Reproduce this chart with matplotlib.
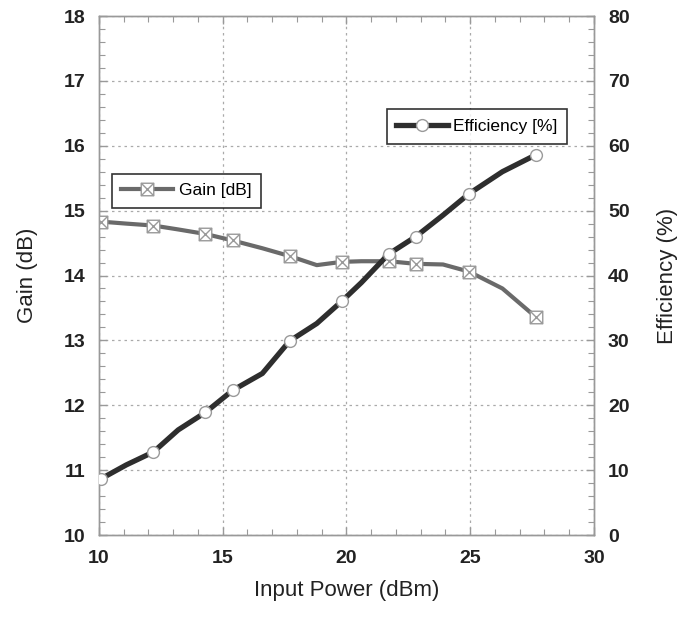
import matplotlib.pyplot as plt
import numpy as np
from matplotlib.path import Path
from matplotlib.ticker import MultipleLocator

plt.rcParams['font.family'] = ['Liberation Sans', 'DejaVu Sans']

# measured sweep
input_power = [10.1, 11.1, 12.2, 13.2, 14.3, 15.4, 16.6, 17.7, 18.8, 19.8,
               20.6, 21.7, 22.8, 23.9, 24.95, 26.3, 27.65]
gain_db = [14.83, 14.80, 14.77, 14.71, 14.64, 14.54, 14.42, 14.30, 14.16, 14.21,
           14.22, 14.22, 14.18, 14.17, 14.06, 13.80, 13.36]
efficiency = [8.7, 10.8, 12.8, 16.2, 18.9, 22.3, 24.9, 29.9, 32.6, 36.0,
              38.9, 43.3, 46.0, 49.3, 52.6, 56.0, 58.6]
marked = [0, 2, 4, 5, 7, 9, 11, 12, 14, 16]

# square with both diagonals
verts = [(-1, -1), (1, -1), (1, 1), (-1, 1), (-1, -1),
         (-1, -1), (1, 1), (-1, 1), (1, -1)]
codes = [Path.MOVETO, Path.LINETO, Path.LINETO, Path.LINETO, Path.CLOSEPOLY,
         Path.MOVETO, Path.LINETO, Path.MOVETO, Path.LINETO]
box_x = Path(verts, codes)

fig = plt.figure(figsize=(6.79, 6.18), dpi=100)
ax = fig.add_axes([0.1458, 0.1343, 0.729, 0.8398])
ax2 = ax.twinx()

ax.plot(input_power, gain_db, color='#6a6a6a', lw=3, marker=box_x, markevery=marked,
        ms=9, mfc='white', mec='#9a9a9a', mew=1.0, label='Gain [dB]', zorder=3)
ax2.plot(input_power, efficiency, color='#2e2e2e', lw=3.8, marker='o', markevery=marked,
         ms=8.5, mfc='white', mec='#9a9a9a', mew=1.0, label='Efficiency [%]', zorder=3)

ax.set_xlim(10, 30)
ax.set_ylim(10, 18)
ax2.set_ylim(0, 80)
ax.xaxis.set_major_locator(MultipleLocator(5))
ax.xaxis.set_minor_locator(MultipleLocator(1))
ax.yaxis.set_major_locator(MultipleLocator(1))
ax.yaxis.set_minor_locator(MultipleLocator(0.2))
ax2.yaxis.set_major_locator(MultipleLocator(10))
ax2.yaxis.set_minor_locator(MultipleLocator(2))

ax.grid(True, which='major', ls=(0, (2, 3)), color='#aaaaaa', lw=0.9)

for a in (ax, ax2):
    for s in a.spines.values():
        s.set_color('#999999')
        s.set_linewidth(1.0)
ax.tick_params(which='both', direction='in', color='#999999', top=True)
ax.tick_params(which='major', length=6, width=1)
ax.tick_params(which='minor', length=4, width=0.8)
ax.tick_params(axis='y', pad=10)
ax.tick_params(axis='x', pad=11)
ax2.tick_params(which='both', direction='in', color='#999999')
ax2.tick_params(which='major', length=6, width=1, pad=10)
ax2.tick_params(which='minor', length=4, width=0.8)

for lab in ax.get_xticklabels() + ax.get_yticklabels() + ax2.get_yticklabels():
    lab.set_fontsize(14)
    lab.set_fontweight('bold')
    lab.set_color('#222222')

ax.set_xlabel('Input Power (dBm)', fontsize=16, color='#222222', labelpad=9)
ax.set_ylabel('Gain (dB)', fontsize=16, color='#222222', labelpad=18)
ax2.set_ylabel('Efficiency (%)', fontsize=16, color='#222222', labelpad=20)

leg1 = ax.legend(loc='upper left', bbox_to_anchor=(0.026, 0.696), fontsize=12.5,
                 frameon=True, fancybox=False, edgecolor='black', handlelength=3.0,
                 borderpad=0.55, handletextpad=0.3, borderaxespad=0)
leg1.get_frame().set_linewidth(1.2)
leg2 = ax2.legend(loc='upper left', bbox_to_anchor=(0.581, 0.82), fontsize=12.5,
                  frameon=True, fancybox=False, edgecolor='black', handlelength=3.0,
                  borderpad=0.55, handletextpad=0.3, borderaxespad=0)
leg2.get_frame().set_linewidth(1.2)

fig.savefig('out.png', dpi=100)
